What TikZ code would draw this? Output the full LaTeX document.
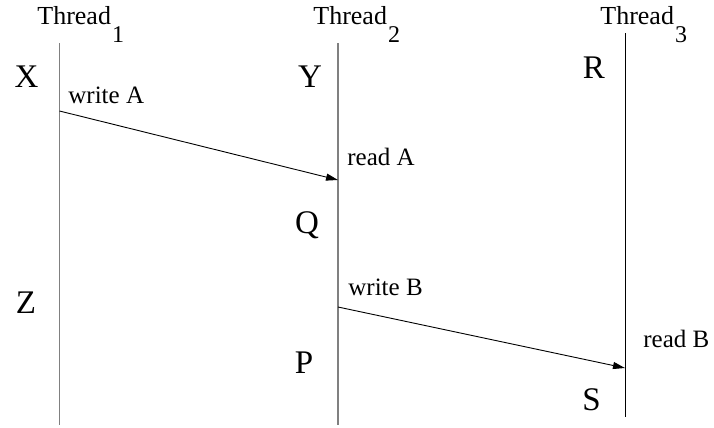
\documentclass[tikz,border=0pt]{standalone}
\usepackage{fontspec}
\setmainfont{Liberation Serif}
\usetikzlibrary{arrows.meta}
\newcommand{\thr}[1]{Thread\hspace{0.5pt}\raisebox{-9pt}{\fontsize{12}{12}\selectfont #1}}

\begin{document}
\begin{tikzpicture}[x=0.5pt, y=-0.5pt,
    every node/.style={inner sep=0pt},
    head/.style={font=\fontsize{13}{13}\selectfont, anchor=base west},
    lbl/.style={font=\fontsize{12.5}{12.5}\selectfont, anchor=base west},
    big/.style={font=\fontsize{16.5}{16.5}\selectfont, anchor=base},
    lane/.style={draw=black!50, line width=0.7pt},
    msg/.style={-{Triangle[length=6pt,width=3.5pt]}, line width=0.45pt}]
    \useasboundingbox (0,0) rectangle (714,428);

    % thread names
    \node[head] (t1) at (37,25) {\thr{1}};
    \node[head] (t2) at (313,25) {\thr{2}};
    \node[head] (t3) at (600,25) {\thr{3}};

    % time lines
    \coordinate (top1) at (59.5,43);  \coordinate (bot1) at (59.5,425);
    \coordinate (top2) at (338,43);   \coordinate (bot2) at (338,425);
    \coordinate (top3) at (625,33);   \coordinate (bot3) at (625,417);
    \draw[lane] (top1) -- (bot1);
    \draw[lane] (top2) -- (bot2);
    \draw[line width=0.5pt] (top3) -- (bot3);

    % events
    \node[big] (x) at (26.5,87) {X};
    \node[big] (y) at (310,87) {Y};
    \node[big] (r) at (594,78) {R};
    \node[big] (q) at (307,234) {Q};
    \node[big] (z) at (26,313) {Z};
    \node[big] (p) at (304,373) {P};
    \node[big] (s) at (591.5,410) {S};

    % messages
    \coordinate (wa) at (59.5,111);
    \coordinate (ra) at (338,180);
    \coordinate (wb) at (338,307);
    \coordinate (rb) at (625,368);
    \draw[msg] (wa) -- (ra);
    \draw[msg] (wb) -- (rb);
    \node[lbl] (wA) at (68,104) {write A};
    \node[lbl] (rA) at (347,165) {read A};
    \node[lbl] (wB) at (348,295) {write B};
    \node[lbl] (rB) at (643,347) {read B};
\end{tikzpicture}
\end{document}
